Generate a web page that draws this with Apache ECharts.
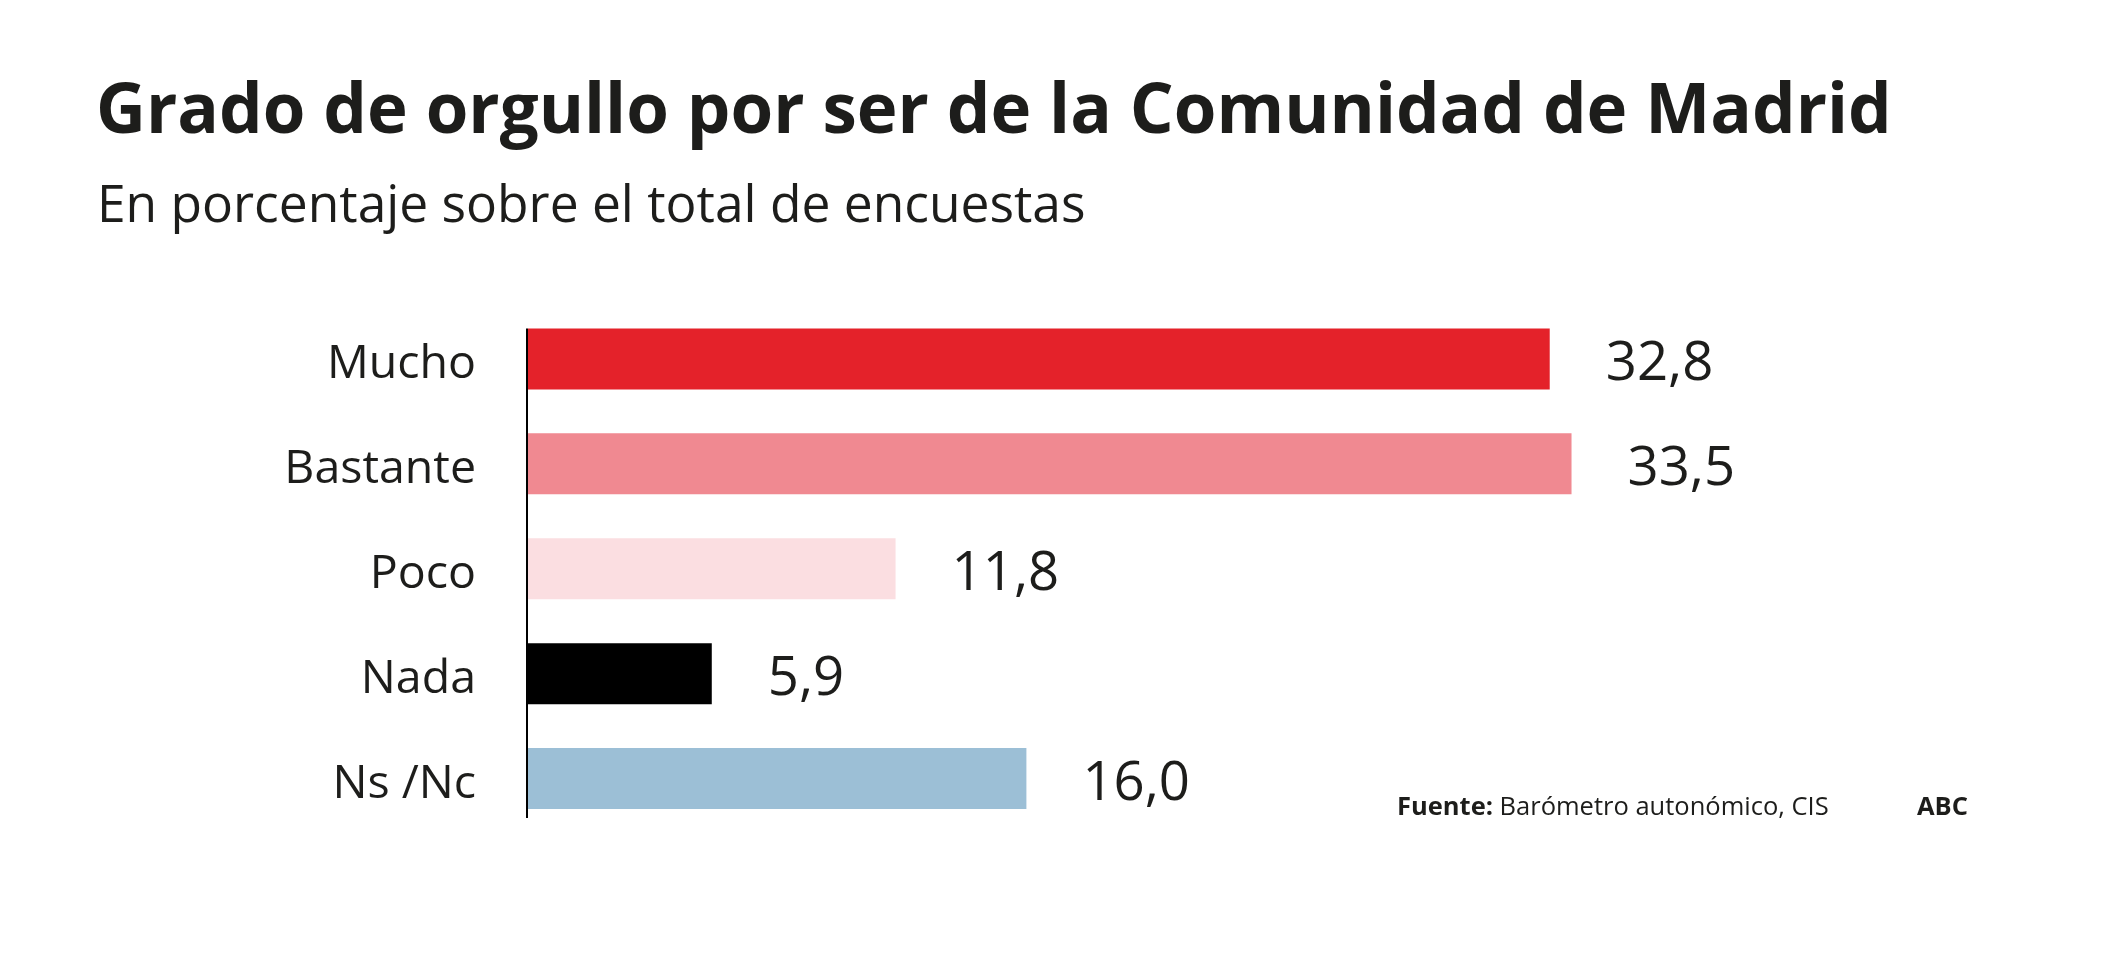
<!DOCTYPE html>
<html>
<head>
<meta charset="utf-8">
<script src="https://cdn.jsdelivr.net/npm/echarts@6/dist/echarts.min.js"></script>
<style>
  html, body { margin: 0; padding: 0; background: #ffffff; }
  #chart { width: 2125px; height: 959px; }
</style>
</head>
<body>
<div id="chart"></div>
<script>
const categories = ['Mucho', 'Bastante', 'Poco', 'Nada', 'Ns /Nc'];
const values = [32.8, 33.5, 11.8, 5.9, 16.0];
const valueLabels = ['32,8', '33,5', '11,8', '5,9', '16,0'];
const barColors = ['#e4222a', '#f08991', '#fbdee1', '#000000', '#9cbfd6'];

const FONT = '"Open Sans", "Noto Sans", sans-serif';
const TEXT = '#1d1d1b';
const BAR_W = 61;

const chart = echarts.init(document.getElementById('chart'), null, { renderer: 'canvas' });

chart.setOption({
  backgroundColor: '#ffffff',
  animation: false,
  title: [
    {
      text: 'Grado de orgullo por ser de la Comunidad de Madrid',
      left: 96, top: 79, padding: 0,
      textStyle: { fontFamily: FONT, fontWeight: 'bold', fontSize: 69, color: TEXT }
    },
    {
      text: 'En porcentaje sobre el total de encuestas',
      left: 97, top: 181, padding: 0,
      textStyle: { fontFamily: FONT, fontWeight: 'normal', fontSize: 51.5, color: TEXT }
    },
    {
      text: '{b|Fuente:} {r|Barómetro autonómico, CIS}',
      left: 1397, top: 795, padding: 0,
      textStyle: {
        fontFamily: FONT, fontSize: 25.5, fontWeight: 'normal', color: TEXT,
        rich: {
          b: { fontFamily: FONT, fontSize: 25.5, fontWeight: 'bold', color: TEXT },
          r: { fontFamily: FONT, fontSize: 25.5, fontWeight: 'normal', color: TEXT }
        }
      }
    },
    {
      text: 'ABC',
      left: 1917, top: 795, padding: 0,
      textStyle: { fontFamily: FONT, fontWeight: 'bold', fontSize: 25.5, color: TEXT }
    }
  ],
  grid: { left: 528, right: 351, top: 306.5, bottom: 128, containLabel: false },
  xAxis: {
    type: 'value', min: 0, max: 40,
    show: false
  },
  yAxis: {
    type: 'category', data: categories, inverse: true,
    axisLine: { show: false },
    axisTick: { show: false },
    axisLabel: {
      margin: 52, fontFamily: FONT, fontSize: 46.5, color: TEXT,
      formatter: v => '{c|' + v + '}',
      rich: { c: { fontFamily: FONT, fontSize: 46.5, color: TEXT, padding: [12, 0, 0, 0] } }
    }
  },
  series: [{
    type: 'bar',
    barWidth: BAR_W,
    data: values.map((v, i) => ({ value: v, itemStyle: { color: barColors[i] } })),
    label: {
      show: true, position: 'right', distance: 56, offset: [0, 6],
      fontFamily: FONT, fontSize: 54.5, color: TEXT,
      formatter: p => valueLabels[p.dataIndex]
    }
  }]
});

// axis line drawn from the category scale positions
const yTop = chart.convertToPixel({ yAxisIndex: 0 }, categories[0]) - BAR_W / 2;
const yBot = chart.convertToPixel({ yAxisIndex: 0 }, categories[categories.length - 1]) + BAR_W / 2 + 9;
const x0 = chart.convertToPixel({ xAxisIndex: 0 }, 0) - 1;
chart.setOption({
  graphic: [{
    type: 'line',
    shape: { x1: x0, y1: yTop, x2: x0, y2: yBot },
    style: { stroke: '#000000', lineWidth: 2 },
    z: 10
  }]
});
</script>
</body>
</html>
